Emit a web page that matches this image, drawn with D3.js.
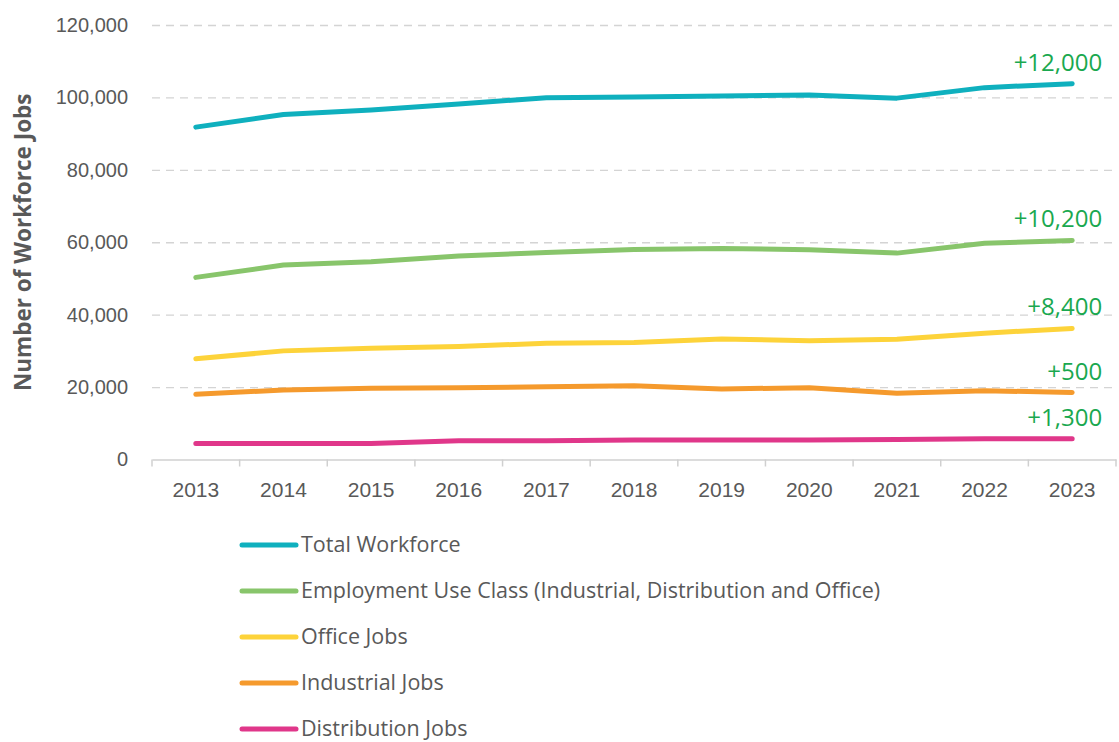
<!DOCTYPE html>
<html>
<head>
<meta charset="utf-8">
<script src="https://cdn.jsdelivr.net/npm/d3@7"></script>
<style>
  html, body { margin: 0; padding: 0; background: #ffffff; }
  svg { display: block; font-family: "Open Sans", "Noto Sans", sans-serif; }
</style>
</head>
<body>
<svg id="chart" width="1119" height="742"></svg>
<script>
// Workforce jobs by year, 2013–2023
const years = ["2013","2014","2015","2016","2017","2018","2019","2020","2021","2022","2023"];

const totalWorkforce   = [91800, 95300, 96500, 98200, 99900, 100100, 100400, 100700, 99800, 102700, 103800];
const employmentUse    = [50300, 53700, 54600, 56200, 57200, 58000, 58300, 57900, 57000, 59700, 60500];
const officeJobs       = [27800, 30000, 30700, 31200, 32100, 32300, 33300, 32800, 33200, 34900, 36200];
const industrialJobs   = [18000, 19200, 19700, 19800, 20100, 20400, 19500, 19800, 18300, 19000, 18500];
const distributionJobs = [4400, 4400, 4400, 5200, 5200, 5400, 5400, 5400, 5500, 5700, 5700];

const seriesNames = [
  "Total Workforce",
  "Employment Use Class (Industrial, Distribution and Office)",
  "Office Jobs",
  "Industrial Jobs",
  "Distribution Jobs"
];
const seriesColors = ["#0fb0be", "#88c56b", "#fdd33a", "#f59a2d", "#e0378a"];
const changeLabels = ["+12,000", "+10,200", "+8,400", "+500", "+1,300"];

const yTicks = [0, 20000, 40000, 60000, 80000, 100000, 120000];
const yTitle = "Number of Workforce Jobs";

const series = [totalWorkforce, employmentUse, officeJobs, industrialJobs, distributionJobs]
  .map((values, i) => ({ name: seriesNames[i], color: seriesColors[i], label: changeLabels[i], values }));

const svg = d3.select("#chart");
const textColor = "#595959";
const plotLeft = 152, plotRight = 1116, plotTop = 25, plotBottom = 459.5;

const x = d3.scaleBand().domain(years).range([plotLeft, plotRight]);
const y = d3.scaleLinear().domain([0, 120000]).range([plotBottom, plotTop]);
const cx = d => x(d) + x.bandwidth() / 2;

// Horizontal dashed gridlines with value labels
const yAxis = svg.append("g")
  .attr("transform", `translate(${plotLeft},0)`)
  .call(d3.axisLeft(y).tickValues(yTicks).tickFormat(d3.format(",")).tickSize(-(plotRight - plotLeft)).tickPadding(24));
yAxis.select(".domain").remove();
yAxis.selectAll(".tick line")
  .attr("stroke", d => d === 0 ? "none" : "#d4d4d4")
  .attr("stroke-width", 1.3)
  .attr("stroke-dasharray", "8,6");
yAxis.selectAll(".tick text")
  .attr("fill", textColor)
  .style("font-size", "20px");

// Category axis along the bottom
const xAxis = svg.append("g")
  .attr("transform", `translate(0,${plotBottom})`)
  .call(d3.axisBottom(x).tickSize(0).tickPadding(23));
xAxis.select(".domain").attr("stroke", "#d0d0d0").attr("stroke-width", 1.5);
xAxis.selectAll(".tick text")
  .attr("fill", textColor)
  .style("font-size", "21px");

// Tick marks on the band boundaries
const edges = years.map(d => x(d)).concat([x.range()[1]]);
svg.append("g").selectAll("line").data(edges).join("line")
  .attr("x1", d => d).attr("x2", d => d)
  .attr("y1", plotBottom).attr("y2", plotBottom + 7)
  .attr("stroke", "#d0d0d0").attr("stroke-width", 1.5);

// Y axis title
svg.append("text")
  .attr("transform", `translate(31,${(plotTop + plotBottom) / 2}) rotate(-90)`)
  .attr("text-anchor", "middle")
  .attr("fill", textColor)
  .style("font-size", "22.5px")
  .style("font-weight", "bold")
  .text(yTitle);

// Series lines
const line = d3.line()
  .x((d, i) => cx(years[i]))
  .y(d => y(d));

svg.append("g").selectAll("path").data(series).join("path")
  .attr("d", s => line(s.values))
  .attr("fill", "none")
  .attr("stroke", s => s.color)
  .attr("stroke-width", 5)
  .attr("stroke-linecap", "round")
  .attr("stroke-linejoin", "round");

// Change annotations above the last point
const lastYear = years[years.length - 1];
svg.append("g").selectAll("text").data(series).join("text")
  .attr("x", cx(lastYear) + 30)
  .attr("y", s => y(s.values[s.values.length - 1]) - 13)
  .attr("text-anchor", "end")
  .attr("fill", "#1aa84f")
  .style("font-size", "24px")
  .text(s => s.label);

// Legend
const legend = svg.append("g").selectAll("g").data(series).join("g")
  .attr("transform", (s, i) => `translate(240,${545 + i * 46})`);
legend.append("line")
  .attr("x1", 2).attr("x2", 56)
  .attr("stroke", s => s.color)
  .attr("stroke-width", 5)
  .attr("stroke-linecap", "round");
legend.append("text")
  .attr("x", 61)
  .attr("dy", "0.34em")
  .attr("fill", textColor)
  .style("font-size", "21.5px")
  .text(s => s.name);
</script>
</body>
</html>
